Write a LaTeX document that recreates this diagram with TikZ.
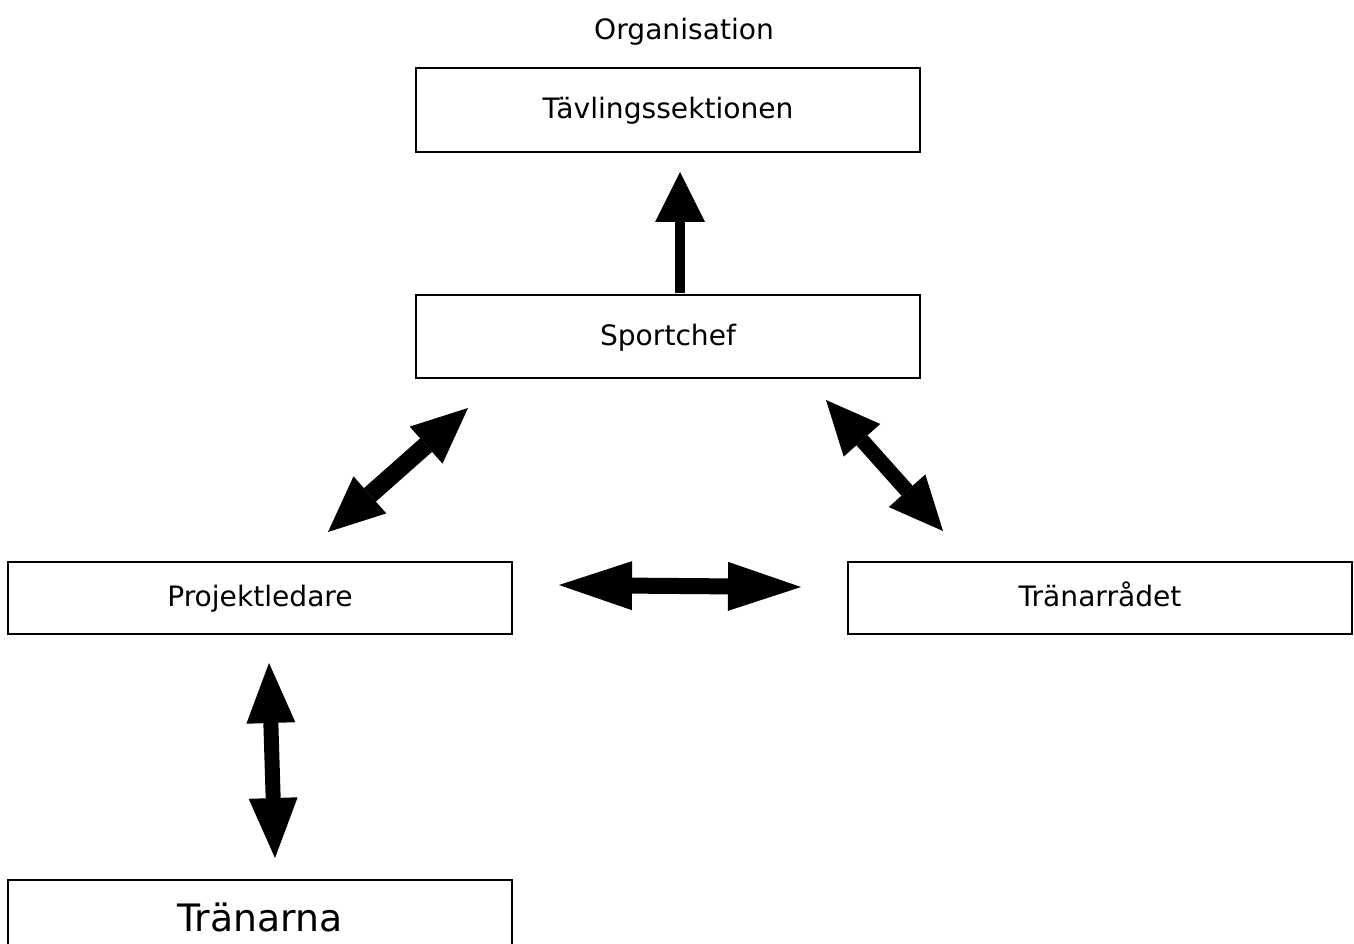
\documentclass[tikz,border=0pt]{standalone}
\usepackage{fontspec}
\setmainfont{DejaVu Sans}
\usepackage{tikz}
\usetikzlibrary{arrows.meta}

\begin{document}
\begin{tikzpicture}[x=0.02cm, y=-0.02cm,
        box/.style={draw, line width=1.1pt, minimum width=10.08cm, text height=1em, text depth=0em, font=\fontsize{16}{19}\selectfont},
        blockarrow/.style={line width=0.32cm, arrows={Triangle[length=1.2cm, width=0.98cm, line width=0pt]-Triangle[length=1.2cm, width=0.98cm, line width=0pt]}}]
        \useasboundingbox (0, 0) rectangle (1354, 943);
        % boxes
        \node (org) at (684, 32) {\fontsize{16}{19}\selectfont Organisation};
        \node [box, minimum height=1.68cm] (tavling) at (668, 110) {Tävlingssektionen};
        \node [box, minimum height=1.66cm] (sport) at (668, 336.5) {Sportchef};
        \node [box, minimum height=1.44cm] (projekt) at (260, 598) {Projektledare};
        \node [box, minimum height=1.44cm] (radet) at (1100, 598) {Tränarrådet};
        \node [box, minimum height=1.72cm, font=\fontsize{21.5}{25}\selectfont] (tranarna) at (260, 923) {Tränarna};
        % arrow ends
        \coordinate (upA) at (680, 293);
        \coordinate (upB) at (680, 172);
        \coordinate (dlA) at (468, 408);
        \coordinate (dlB) at (328, 532);
        \coordinate (drA) at (826, 400);
        \coordinate (drB) at (943, 531);
        \coordinate (hA) at (559, 585);
        \coordinate (hB) at (801, 587);
        \coordinate (vA) at (269, 663);
        \coordinate (vB) at (275, 858);
        % arrows
        \draw [line width=0.2cm, arrows={-Triangle[length=1.0cm, width=1.0cm, line width=0pt]}] (upA) -- (upB);
        \draw [blockarrow, line width=0.36cm, arrows={Triangle[length=1.12cm, width=0.99cm, line width=0pt]-Triangle[length=1.12cm, width=0.99cm, line width=0pt]}] (dlA) -- (dlB);
        \draw [blockarrow, line width=0.3cm, arrows={Triangle[length=1.08cm, width=0.98cm, line width=0pt]-Triangle[length=1.08cm, width=0.98cm, line width=0pt]}] (drA) -- (drB);
        \draw [blockarrow, arrows={Triangle[length=1.46cm, width=0.98cm, line width=0pt]-Triangle[length=1.46cm, width=0.98cm, line width=0pt]}] (hA) -- (hB);
        \draw [blockarrow, line width=0.3cm] (vA) -- (vB);
    \end{tikzpicture}
\end{document}
